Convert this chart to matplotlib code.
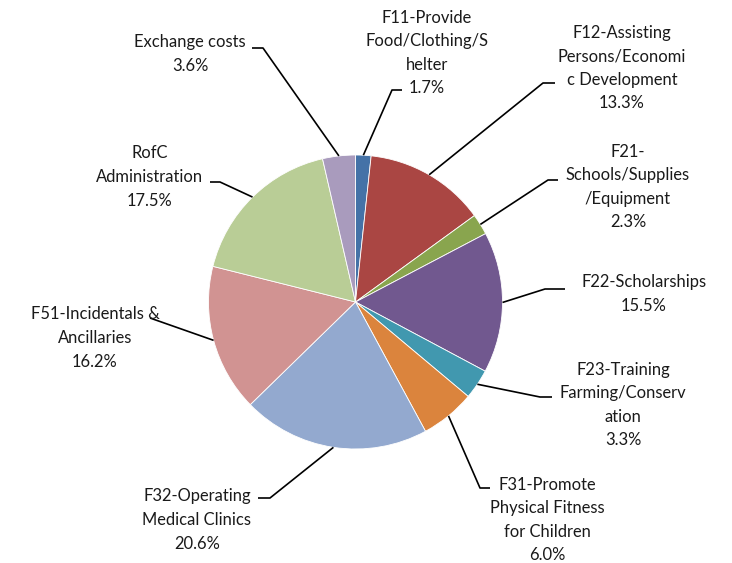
import numpy as np
import matplotlib.pyplot as plt

# data
categories = ["F11-Provide\nFood/Clothing/S\nhelter",
              "F12-Assisting\nPersons/Economi\nc Development",
              "F21-\nSchools/Supplies\n/Equipment",
              "F22-Scholarships",
              "F23-Training\nFarming/Conserv\nation",
              "F31-Promote\nPhysical Fitness\nfor Children",
              "F32-Operating\nMedical Clinics",
              "F51-Incidentals &\nAncillaries",
              "RofC\nAdministration",
              "Exchange costs"]
shares = [1.7, 13.3, 2.3, 15.5, 3.3, 6.0, 20.6, 16.2, 17.5, 3.6]
colors = ["#4572A7", "#AA4643", "#89A54E", "#71588F", "#4198AF",
          "#DB843D", "#93A9CF", "#D19392", "#B9CD96", "#A99BBD"]

W, H = 732, 563
cx, cy, r = 355.5, 302, 147   # pie centre / radius in pixels (y from top)

# label layout in pixels (y from top): text centre, elbow, end of horizontal
text_pos = [(427, 53), (622, 68), (628, 187), (644, 294), (623, 405),
            (547, 520), (197, 520), (95, 338), (150, 177), (190, 54)]
elbow = [(392, 90), (543, 83), (548, 180), (545, 289), (540, 397),
         (480, 488), (270, 498), (150, 318), (220, 182), (263, 48)]
line_end = [(402, 90), (555, 83), (558, 180), (565, 289), (552, 397),
            (490, 488), (258, 498), (150, 318), (210, 182), (252, 48)]

plt.rcParams['font.family'] = ['Lato', 'DejaVu Sans']

fig = plt.figure(figsize=(W / 100, H / 100), dpi=100)
ax = fig.add_axes([0, 0, 1, 1])

wedges, _ = ax.pie(shares, colors=colors, startangle=90, counterclock=False,
                   center=(cx, H - cy), radius=r, frame=True,
                   wedgeprops=dict(edgecolor='white', linewidth=0.6))
ax.set_xlim(0, W)
ax.set_ylim(0, H)
ax.axis('off')

for w, lab, val, tp, el, le in zip(wedges, categories, shares, text_pos, elbow, line_end):
    mid = np.deg2rad((w.theta1 + w.theta2) / 2)
    sx = cx + r * np.cos(mid)
    sy = (H - cy) + r * np.sin(mid)
    ax.plot([sx, el[0], le[0]], [sy, H - el[1], H - le[1]], color='black', lw=1.2,
            solid_capstyle='butt', zorder=3)
    ax.text(tp[0], H - tp[1], f"{lab}\n{val:.1f}%", ha='center', va='center',
            fontsize=11.9, linespacing=1.58, color='#1a1a1a', zorder=4)

fig.savefig("out.png", dpi=100)
